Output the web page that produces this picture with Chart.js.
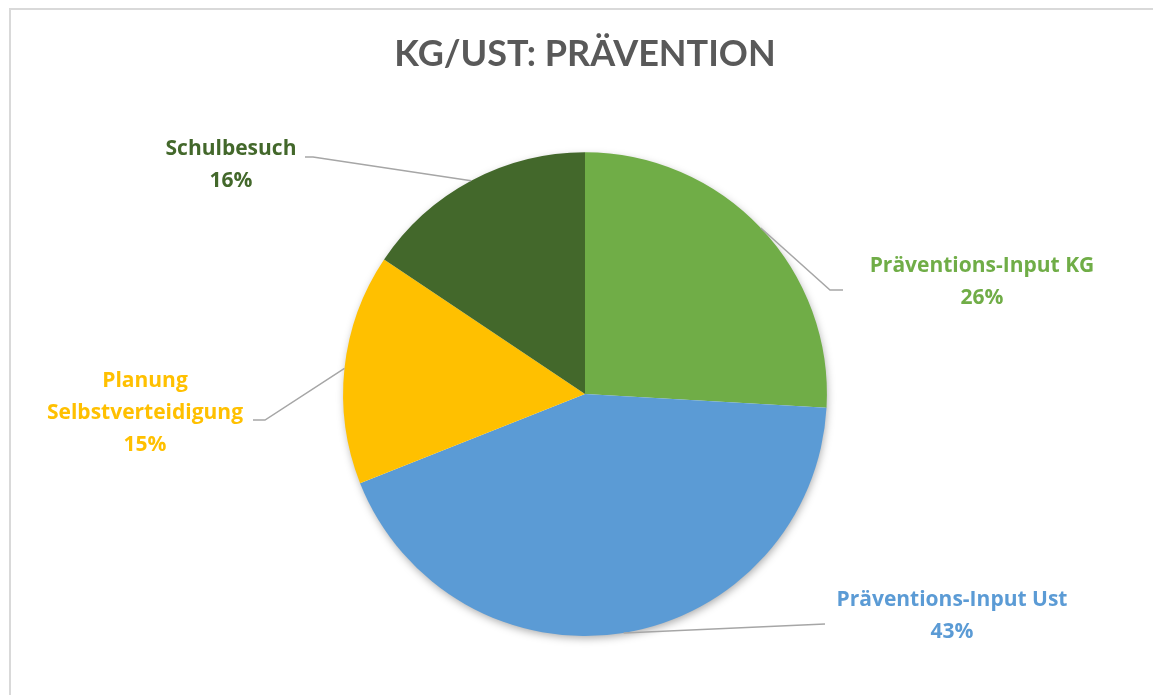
<!DOCTYPE html>
<html>
<head>
<meta charset="utf-8">
<script src="https://cdn.jsdelivr.net/npm/chart.js@4"></script>
<style>
  body { margin: 0; background: #fff; }
  canvas { display: block; }
</style>
</head>
<body>
<canvas id="mycanvas" width="1153" height="695"></canvas>
<script>
// data (share of each slice, %)
var categories = ['Präventions-Input KG', 'Präventions-Input Ust', 'Planung Selbstverteidigung', 'Schulbesuch'];
var values = [25.9, 43.1, 15.4, 15.6];
var colours = ['#70AD47', '#5B9BD5', '#FFC000', '#43682B'];
// how each label is broken into lines
var labelLines = [['Präventions-Input KG'], ['Präventions-Input Ust'], ['Planung', 'Selbstverteidigung'], ['Schulbesuch']];

// where the labels sit, offsets from the pie centre (px)
var labelPos = [
  { x: 397, y: -112, elbow: [245, -104], end: [258, -104] },
  { x: 367, y: 222, elbow: [240, 230], end: [240, 230] },
  { x: -440, y: 19, elbow: [-320, 26], end: [-332, 26] },
  { x: -354, y: -229, elbow: [-272, -237], end: [-280, -237] }
];

var frame = {
  id: 'frame',
  beforeDraw: function(chart) {
    var c = chart.ctx;
    c.save();
    c.fillStyle = '#fff';
    c.fillRect(0, 0, chart.width, chart.height);
    c.strokeStyle = '#D9D9D9';
    c.lineWidth = 2;
    c.strokeRect(10, 9, chart.width + 20, chart.height + 20);
    c.restore();
  },
  beforeDatasetsDraw: function(chart) {
    // soft shadow under the pie
    var arc = chart.getDatasetMeta(0).data[0];
    var c = chart.ctx;
    c.save();
    c.shadowColor = 'rgba(0,0,0,0.35)';
    c.shadowBlur = 8;
    c.shadowOffsetX = 1;
    c.shadowOffsetY = 3;
    c.fillStyle = '#fff';
    c.beginPath();
    c.arc(arc.x, arc.y, arc.outerRadius - 1, 0, Math.PI * 2);
    c.fill();
    c.restore();
  }
};

var pieLabels = {
  id: 'pieLabels',
  afterDatasetsDraw: function(chart) {
    var c = chart.ctx;
    var meta = chart.getDatasetMeta(0);
    var total = values.reduce(function(a, b) { return a + b; }, 0);
    meta.data.forEach(function(arc, i) {
      var mid = (arc.startAngle + arc.endAngle) / 2;
      var r = arc.outerRadius;
      var sx = arc.x + Math.cos(mid) * r;
      var sy = arc.y + Math.sin(mid) * r;
      var p = labelPos[i];
      c.save();
      c.strokeStyle = '#A6A6A6';
      c.lineWidth = 1.5;
      c.beginPath();
      c.moveTo(sx, sy);
      c.lineTo(arc.x + p.elbow[0], arc.y + p.elbow[1]);
      c.lineTo(arc.x + p.end[0], arc.y + p.end[1]);
      c.stroke();

      var lines = labelLines[i].concat([Math.round(values[i] / total * 100) + '%']);
      var lh = 32;
      c.fillStyle = colours[i];
      c.font = 'bold 21px "Open Sans"';
      c.textAlign = 'center';
      c.textBaseline = 'middle';
      var top = arc.y + p.y - (lines.length - 1) * lh / 2;
      lines.forEach(function(t, k) {
        c.fillText(t, arc.x + p.x, top + k * lh);
      });
      c.restore();
    });
  }
};

var chartdata = {
  labels: categories,
  datasets: [{
    data: values,
    backgroundColor: colours,
    borderWidth: 0,
    hoverOffset: 0
  }]
};

new Chart(document.getElementById('mycanvas'), {
  type: 'pie',
  data: chartdata,
  options: {
    responsive: false,
    animation: false,
    layout: { padding: { left: 117, right: 100, top: 0, bottom: 59 } },
    plugins: {
      legend: { display: false },
      tooltip: { enabled: false },
      title: {
        display: true,
        text: 'KG/UST: PRÄVENTION',
        color: '#595959',
        font: { family: 'Lato', size: 36, weight: 'bold', lineHeight: 1.2 },
        padding: { top: 33, bottom: 76 }
      }
    }
  },
  plugins: [frame, pieLabels]
});
</script>
</body>
</html>
